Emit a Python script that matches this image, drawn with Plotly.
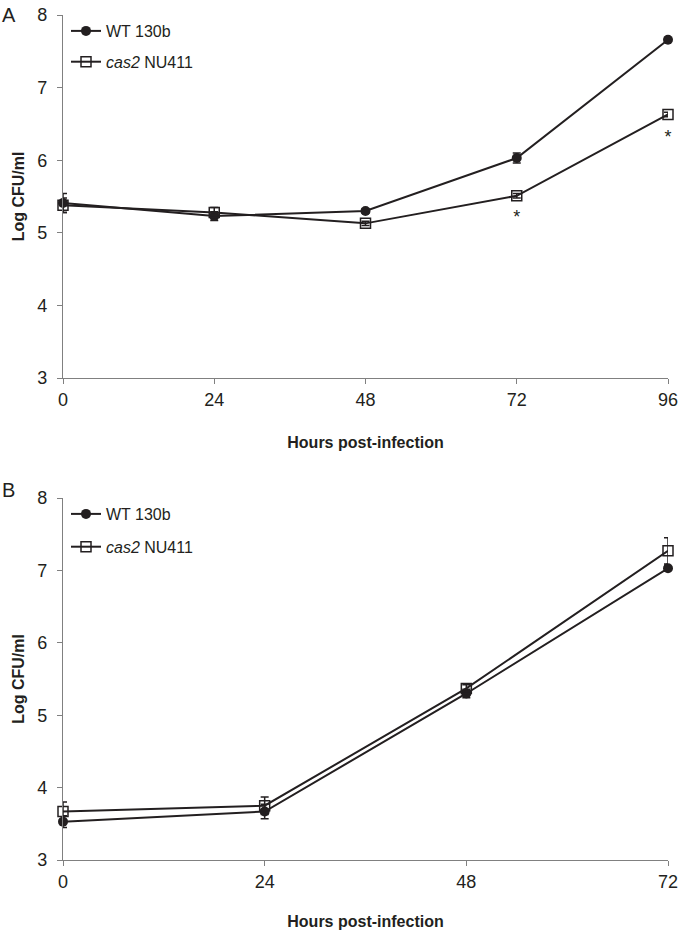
import plotly.graph_objects as go

# Panel A data
hours_a = [0, 24, 48, 72, 96]
wt_a = [5.41, 5.23, 5.30, 6.03, 7.66]
wt_a_err = [0.13, 0.06, 0.03, 0.07, 0.03]
cas2_a = [5.38, 5.28, 5.13, 5.51, 6.63]
cas2_a_err = [0.10, 0.07, 0.03, 0.03, 0.03]
star_hours_a = [72, 96]
star_y_a = [5.20, 6.30]

# Panel B data
hours_b = [0, 24, 48, 72]
wt_b = [3.53, 3.67, 5.30, 7.03]
wt_b_err = [0.08, 0.10, 0.06, 0.04]
cas2_b = [3.67, 3.75, 5.37, 7.27]
cas2_b_err = [0.13, 0.12, 0.05, 0.18]

x_ticks_a = [0, 24, 48, 72, 96]
x_ticks_b = [0, 24, 48, 72]
y_ticks = [3, 4, 5, 6, 7, 8]

W, H = 680, 939
LINE = "#231f20"
AXC = "#808080"
FONT = "Liberation Sans, Arial, sans-serif"

fig = go.Figure()

def add_pair(xs, wt, wte, cas, case, xa, ya, legend):
    fig.add_trace(go.Scatter(
        x=xs, y=wt, name="WT 130b", mode="lines+markers", xaxis=xa, yaxis=ya,
        line=dict(color=LINE, width=2), legend=legend, legendgroup=legend + "wt",
        marker=dict(symbol="circle", size=10, color=LINE),
        error_y=dict(type="data", array=wte, color=LINE, thickness=1.5, width=4),
        cliponaxis=False))
    fig.add_trace(go.Scatter(
        x=xs, y=cas, name="<i>cas2</i> NU411", mode="lines+markers", xaxis=xa, yaxis=ya,
        line=dict(color=LINE, width=2), legend=legend, legendgroup=legend + "cas",
        marker=dict(symbol="square-open", size=10, color=LINE, line=dict(width=1.5)),
        error_y=dict(type="data", array=case, color=LINE, thickness=1.5, width=4),
        cliponaxis=False))

add_pair(hours_a, wt_a, wt_a_err, cas2_a, cas2_a_err, "x", "y", "legend")
add_pair(hours_b, wt_b, wt_b_err, cas2_b, cas2_b_err, "x2", "y2", "legend2")

# Asterisks
fig.add_trace(go.Scatter(
    x=star_hours_a, y=star_y_a, mode="text", text=["*"] * len(star_hours_a),
    textfont=dict(size=18, color=LINE, family=FONT), showlegend=False,
    xaxis="x", yaxis="y", cliponaxis=False))

x0, x1 = 63 / W, 668 / W
ya_dom = [1 - 378 / H, 1 - 15 / H]
yb_dom = [1 - 860 / H, 1 - 498 / H]

axis_common = dict(showgrid=False, zeroline=False, showline=True, linecolor=AXC, linewidth=1.2,
                   ticks="outside", ticklen=5, tickcolor=AXC, automargin=False,
                   tickfont=dict(size=18, color="#231f20", family=FONT))

fig.update_layout(
    width=W, height=H, margin=dict(l=0, r=0, t=0, b=0, autoexpand=False),
    paper_bgcolor="white", plot_bgcolor="white",
    font=dict(family=FONT, color="#231f20"),
    xaxis=dict(domain=[x0, x1], range=[0, 96], tickvals=x_ticks_a, anchor="y",
               title=dict(text="<b>Hours post-infection</b>", font=dict(size=16), standoff=28), **axis_common),
    yaxis=dict(domain=ya_dom, range=[3, 8], tickvals=y_ticks, anchor="x", ticklabelstandoff=6,
               title=dict(text="<b>Log CFU/ml</b>", font=dict(size=16), standoff=8), **axis_common),
    xaxis2=dict(domain=[x0, x1], range=[0, 72], tickvals=x_ticks_b, anchor="y2",
                title=dict(text="<b>Hours post-infection</b>", font=dict(size=16), standoff=25), **axis_common),
    yaxis2=dict(domain=yb_dom, range=[3, 8], tickvals=y_ticks, anchor="x2", ticklabelstandoff=6,
                title=dict(text="<b>Log CFU/ml</b>", font=dict(size=16), standoff=8), **axis_common),
    legend=dict(x=66 / W, y=1 - 14 / H, xanchor="left", yanchor="top", bgcolor="rgba(0,0,0,0)",
                font=dict(size=16, family=FONT), tracegroupgap=7, traceorder="grouped"),
    legend2=dict(x=66 / W, y=1 - 497 / H, xanchor="left", yanchor="top", bgcolor="rgba(0,0,0,0)",
                 font=dict(size=16, family=FONT), tracegroupgap=9, traceorder="grouped"),
    annotations=[
        dict(text="A", x=0.0, y=1 - 2 / H, xref="paper", yref="paper", xanchor="left", yanchor="top",
             showarrow=False, font=dict(size=20, family=FONT)),
        dict(text="B", x=0.0, y=1 - 477 / H, xref="paper", yref="paper", xanchor="left", yanchor="top",
             showarrow=False, font=dict(size=20, family=FONT)),
    ],
)

fig.write_html("out.html", config={"displayModeBar": False},
               post_script="document.body.style.margin='0';")
